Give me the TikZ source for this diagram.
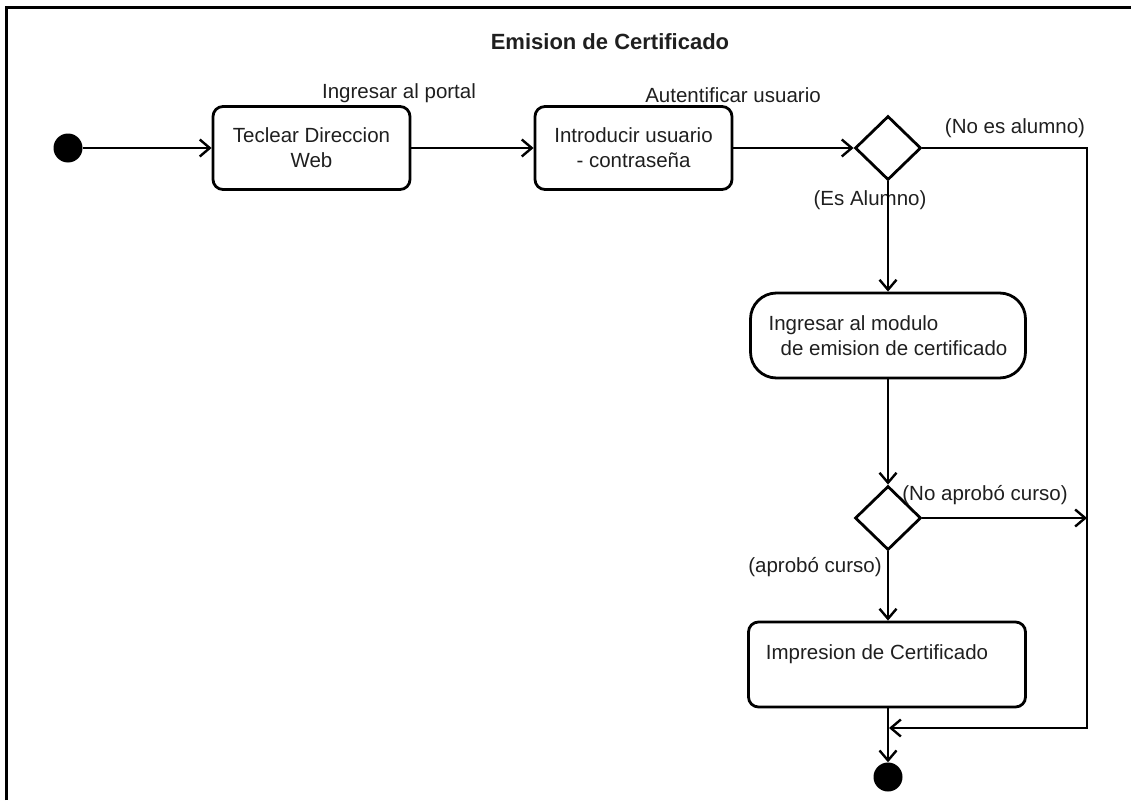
\documentclass[tikz,border=0pt]{standalone}
\usepackage{fontspec}
\setmainfont{Liberation Sans}
\usetikzlibrary{arrows.meta,shapes.geometric}
\begin{document}
\begin{tikzpicture}[x=1pt,y=-1pt,
  every node/.style={font=\fontsize{20.5}{25}\selectfont, inner sep=0pt, text=black!88},
  flow/.style={line width=2.8pt, line join=miter, -{Straight Barb[length=10pt,width=17pt,line width=2.4pt]}},
  act/.style={draw, line width=2.8pt, rounded corners=10pt, align=center, minimum height=83pt},
  choice/.style={draw, diamond, line width=2.8pt, minimum width=66pt, minimum height=64pt, inner sep=0pt},
  dot/.style={circle, fill=black, minimum size=29pt},
  titletext/.style={font=\fontsize{22}{26}\selectfont\bfseries}]
\useasboundingbox (0,0) rectangle (1131,800);
% frame of the drawing area
\draw[line width=3pt] (6,800) -- (6,8) -- (1131,8);

\node[titletext] (title) at (610,42) {Emision de Certificado};

% activities and decisions
\node[dot] (start) at (68,148) {};
\node[act, minimum width=197pt] (teclear) at (311.5,148) {Teclear Direccion\\Web};
\node[act, minimum width=197pt] (intro) at (633.5,148) {Introducir usuario\\- contraseña};
\node[choice] (d1) at (888,148) {};
\node[act, minimum width=275pt, minimum height=85pt, rounded corners=26pt, align=left] (modulo) at (888,335.5)
  {Ingresar al modulo\\\hspace*{12pt}de emision de certificado};
\node[choice] (d2) at (888,518) {};
\node[act, minimum width=277pt, minimum height=85pt] (impr) at (887,664.5)
  {Impresion de Certificado\hspace*{20pt}\\\mbox{}};
\node[dot] (fin) at (888,777) {};

% transition labels
\node (lblportal) at (399,93) {Ingresar al portal};
\node (lblauth) at (733,95) {Autentificar usuario};
\node (lblno) at (1015,128) {(No es alumno)};
\node (lblsi) at (870,200) {(Es Alumno)};
\node (lblnoap) at (985,495) {(No aprobó curso)};
\node (lblap) at (815,567) {(aprobó curso)};

% bend points of the side path
\coordinate (c1) at (1087,148);
\coordinate (c3) at (1087,518);
\coordinate (c2) at (1087,728);
\coordinate (merge) at (889,728);

% transitions
\draw[flow] (start) -- (teclear);
\draw[flow] (teclear) -- (intro);
\draw[flow] (intro) -- (d1);
\draw[flow] (d1) -- (modulo);
\draw[flow] (d1.east) -- (c1) -- (c2) -- (merge);
\draw[flow] (modulo) -- (d2);
\draw[flow] (d2.east) -- (c3);
\draw[flow] (d2) -- (impr.north -| d2);
\draw[flow] (impr.south -| fin) -- (fin);
\end{tikzpicture}
\end{document}
